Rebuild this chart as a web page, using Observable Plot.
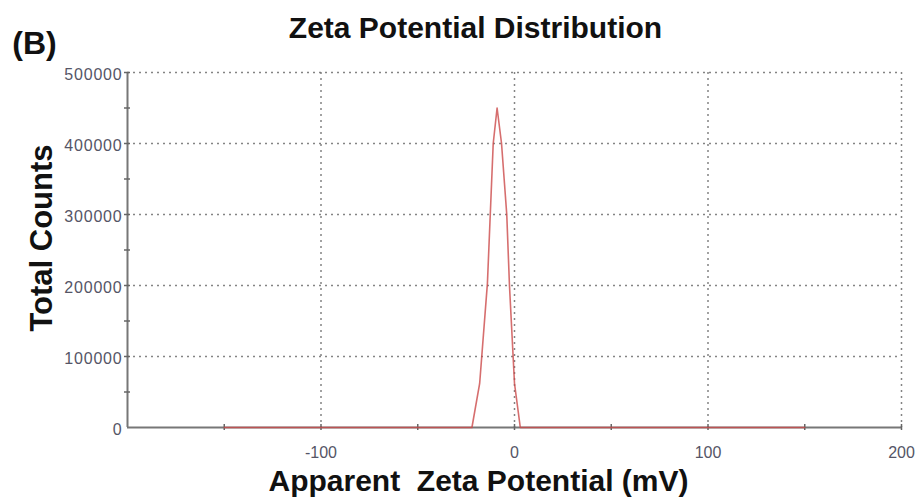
<!DOCTYPE html>
<html>
<head>
<meta charset="utf-8">
<script src="https://cdn.jsdelivr.net/npm/d3@7"></script>
<script src="https://cdn.jsdelivr.net/npm/@observablehq/plot@0.6"></script>
<style>
  html, body { margin: 0; padding: 0; background: #fff; }
  svg { display: block; }
  g[aria-label="y-axis tick label"] text { letter-spacing: 0.8px; }
</style>
</head>
<body>
<div id="chart"></div>
<script>
// Data
const zeta =   [-150, -22, -18, -14, -11, -9, -6.7, -4, -2.6, 0, 3, 150];
const counts = [0, 0, 62000, 203000, 400000, 450000, 400000, 300000, 200000, 62000, 0, 0];

const xTickLabels = [-100, 0, 100, 200];
const xGridLines = [-100, 0, 100, 200];
const xTickMarks = [-150, -100, -50, 0, 50, 100, 150, 200];
const yTickLabels = [0, 100000, 200000, 300000, 400000, 500000];
const yGridLines = [100000, 200000, 300000, 400000, 500000];
const yTickMarks = [50000, 100000, 150000, 200000, 250000, 300000, 350000, 400000, 450000, 500000];

const title = "Zeta Potential Distribution";
const panel = "(B)";
const xLabel = "Apparent  Zeta Potential (mV)";
const yLabel = "Total Counts";

const data = zeta.map((x, i) => ({x, y: counts[i]}));

const chart = Plot.plot({
  width: 919,
  height: 500,
  marginLeft: 127,
  marginRight: 18,
  marginTop: 72,
  marginBottom: 73,
  style: {fontFamily: "'Liberation Sans', Arial, sans-serif", background: "#fff"},
  x: {domain: [-200, 200]},
  y: {domain: [0, 500000]},
  marks: [
    Plot.gridX(xGridLines, {stroke: "#777", strokeOpacity: 0.9, strokeWidth: 1.5, strokeDasharray: "2,4"}),
    Plot.gridY(yGridLines, {stroke: "#777", strokeOpacity: 0.9, strokeWidth: 1.5, strokeDasharray: "2,4"}),
    Plot.ruleX([-200], {stroke: "#777", strokeWidth: 2}),
    Plot.ruleY([0], {stroke: "#777", strokeWidth: 2}),
    Plot.axisX(xTickMarks, {tickSize: 6, dy: -3, tickFormat: () => "", stroke: "#666", strokeWidth: 1.5, label: null}),
    Plot.axisY(yTickMarks, {tickSize: 6, dx: 3, tickFormat: () => "", stroke: "#666", strokeWidth: 1.5, label: null}),
    Plot.axisX(xTickLabels, {tickSize: 0, tickPadding: 19, fontSize: 16, fill: "#556", tickFormat: d => String(d), label: null}),
    Plot.axisY(yTickLabels, {tickSize: 0, tickPadding: 5, dy: 2, fontSize: 16, fill: "#556", tickFormat: d => String(d), label: null}),
    Plot.line(data, {x: "x", y: "y", stroke: "#cc4a4a", strokeWidth: 1.6, strokeOpacity: 0.8}),
    Plot.text([title], {frameAnchor: "top", dx: -39, dy: -44, fontSize: 30, fontWeight: "bold", fill: "#111", lineAnchor: "middle"}),
    Plot.text([panel], {frameAnchor: "top-left", dx: -93, dy: -29, fontSize: 32, fontWeight: "bold", fill: "#111", textAnchor: "middle", lineAnchor: "middle"}),
    Plot.text([yLabel], {frameAnchor: "left", dx: -85, dy: -12, rotate: -90, fontSize: 31, fontWeight: "bold", fill: "#111", textAnchor: "middle", lineAnchor: "middle"}),
    Plot.text([xLabel], {frameAnchor: "bottom", dx: -36, dy: 54, fontSize: 30, fontWeight: "bold", fill: "#111", lineAnchor: "middle"})
  ]
});
document.getElementById("chart").appendChild(chart);
</script>
</body>
</html>
